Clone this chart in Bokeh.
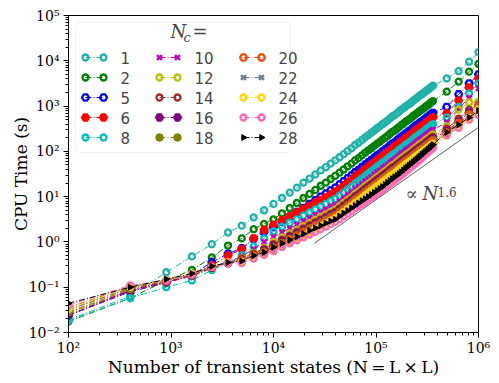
import math
from bokeh.plotting import figure
from bokeh.models import (Range1d, FixedTicker, CustomJSTickFormatter, Label,
                          BoxAnnotation, LinearScale)
from bokeh.embed import file_html
from bokeh.resources import INLINE

# ---------------- data ----------------
L_sizes = list(range(10, 601, 10)) + [700, 800, 900, 1000]
N_states = [L * L for L in L_sizes]          # N = L x L

Nc_values = [1, 2, 5, 6, 8, 10, 12, 14, 16, 18, 20, 22, 24, 26, 28]

t_nc1 = [0.0191, 0.0631, 0.214, 0.479, 0.891, 1.62, 2.29, 3.47, 5.01,
         6.92, 9.33, 12.3, 15.8, 20.4, 25.1, 30.9, 38.0, 44.7, 53.7, 63.1, 74.1, 87.1, 102, 117, 138, 155, 178,
         204, 229, 257, 288, 324, 355, 398, 437, 479, 537, 589, 631, 692, 759, 832, 891, 977, 1050, 1120, 1200,
         1320, 1410, 1510, 1620, 1740, 1820, 1950, 2090, 2240, 2340, 2510, 2690, 2820,
         4070, 5890, 9550, 15500]
t_nc2 = [0.0174, 0.0575, 0.141, 0.240, 0.457, 0.832, 1.20, 1.91, 2.51,
         3.16, 4.27, 5.62, 7.24, 9.33, 11.5, 14.1, 17.4, 20.4, 24.5, 28.8, 33.9, 39.8, 46.8, 53.7, 63.1, 70.8,
         81.3, 93.3, 105, 117, 132, 148, 162, 182, 200, 219, 245, 269, 288, 316, 347, 380, 407, 447, 479, 513,
         550, 603, 646, 692, 741, 794, 832, 891, 955, 1020, 1070, 1150, 1230, 1290,
         2090, 3470, 5750, 8510]
t_nc5 = [0.0240, 0.0794, 0.126, 0.191, 0.355, 0.550, 0.724, 1.15, 1.66,
         2.14, 2.82, 3.63, 4.57, 5.62, 6.92, 8.32, 10.0, 11.7, 13.8, 15.8, 18.6, 21.9, 25.7, 29.5, 34.7, 38.9,
         44.7, 51.3, 57.5, 64.6, 72.4, 81.3, 89.1, 100, 110, 120, 135, 148, 158, 174, 191, 209, 224, 245, 263,
         282, 302, 331, 355, 380, 407, 437, 457, 490, 525, 562, 589, 631, 676, 708,
         955, 1820, 3160, 5010]
t_nc6 = [0.0275, 0.0832, 0.126, 0.178, 0.302, 0.501, 0.692, 1.20, 1.86,
         2.40, 3.02, 3.72, 4.47, 5.37, 6.31, 7.41, 8.51, 9.77, 11.2, 12.6, 14.8, 17.4, 20.4, 23.4, 27.5, 30.9,
         35.5, 40.7, 45.7, 51.3, 57.5, 64.6, 70.8, 79.4, 87.1, 95.5, 107, 117, 126, 138, 151, 166, 178, 195, 209,
         224, 240, 263, 282, 302, 324, 347, 363, 389, 417, 447, 468, 501, 537, 562,
         692, 1320, 2570, 4070]
t_nc8 = [0.0182, 0.0575, 0.100, 0.141, 0.240, 0.339, 0.501, 0.794, 1.20,
         1.70, 2.14, 2.63, 3.16, 3.80, 4.47, 5.25, 6.03, 6.92, 7.94, 8.91, 10.5, 12.3, 14.5, 16.6, 19.5, 21.9,
         25.1, 28.8, 32.4, 36.3, 40.7, 45.7, 50.1, 56.2, 61.7, 67.6, 75.9, 83.2, 89.1, 97.7, 107, 117, 126, 138,
         148, 158, 170, 186, 200, 214, 229, 245, 257, 275, 295, 316, 331, 355, 380, 398,
         562, 955, 1910, 3160]
t_nc10 = [0.0240, 0.0832, 0.132, 0.174, 0.263, 0.355, 0.479, 0.692, 1.00,
          1.29, 1.62, 2.00, 2.40, 2.88, 3.39, 3.98, 4.57, 5.25, 6.03, 6.76, 7.94, 9.33, 11.0, 12.6, 14.8, 16.6,
          19.1, 21.9, 24.5, 27.5, 30.9, 34.7, 38.0, 42.7, 46.8, 51.3, 57.5, 63.1, 67.6, 74.1, 81.3, 89.1, 95.5,
          105, 112, 120, 129, 141, 151, 162, 174, 186, 195, 209, 224, 240, 251, 269, 288, 302,
          437, 891, 1510, 2450]
t_nc12 = [0.0263, 0.0891, 0.135, 0.178, 0.263, 0.347, 0.437, 0.575, 0.741,
          1.00, 1.26, 1.55, 1.86, 2.24, 2.63, 3.09, 3.55, 4.07, 4.68, 5.25, 6.17, 7.24, 8.51, 9.77, 11.5, 12.9,
          14.8, 17.0, 19.1, 21.4, 24.0, 26.9, 29.5, 33.1, 36.3, 39.8, 44.7, 49.0, 52.5, 57.5, 63.1, 69.2, 74.1,
          81.3, 87.1, 93.3, 100, 110, 117, 126, 135, 145, 151, 162, 174, 186, 195, 209, 224, 234,
          355, 832, 1200, 1260]
t_nc14 = [0.0316, 0.0955, 0.138, 0.191, 0.275, 0.355, 0.427, 0.550, 0.692,
          0.891, 1.12, 1.38, 1.66, 2.00, 2.34, 2.75, 3.16, 3.63, 4.17, 4.68, 5.50, 6.46, 7.59, 8.71, 10.2, 11.5,
          13.2, 15.1, 17.0, 19.1, 21.4, 24.0, 26.3, 29.5, 32.4, 35.5, 39.8, 43.7, 46.8, 51.3, 56.2, 61.7, 66.1,
          72.4, 77.6, 83.2, 89.1, 97.7, 105, 112, 120, 129, 135, 145, 155, 166, 174, 186, 200, 209,
          316, 525, 832, 1070]
t_nc16 = [0.0240, 0.0871, 0.132, 0.182, 0.269, 0.339, 0.398, 0.513, 0.646,
          0.813, 1.02, 1.26, 1.51, 1.82, 2.14, 2.51, 2.88, 3.31, 3.80, 4.27, 5.01, 5.89, 6.92, 7.94, 9.33, 10.5,
          12.0, 13.8, 15.5, 17.4, 19.5, 21.9, 24.0, 26.9, 29.5, 32.4, 36.3, 39.8, 42.7, 46.8, 51.3, 56.2, 60.3,
          66.1, 70.8, 75.9, 81.3, 89.1, 95.5, 102, 110, 117, 123, 132, 141, 151, 158, 170, 182, 191,
          282, 457, 724, 1000]
t_nc18 = [0.0282, 0.0912, 0.138, 0.191, 0.275, 0.347, 0.389, 0.501, 0.617,
          0.759, 0.955, 1.18, 1.41, 1.70, 2.00, 2.34, 2.69, 3.09, 3.55, 3.98, 4.68, 5.50, 6.46, 7.41, 8.71, 9.77,
          11.2, 12.9, 14.5, 16.2, 18.2, 20.4, 22.4, 25.1, 27.5, 30.2, 33.9, 37.2, 39.8, 43.7, 47.9, 52.5, 56.2,
          61.7, 66.1, 70.8, 75.9, 83.2, 89.1, 95.5, 102, 110, 115, 123, 132, 141, 148, 158, 170, 178,
          263, 427, 661, 955]
t_nc20 = [0.0355, 0.105, 0.141, 0.195, 0.282, 0.355, 0.380, 0.490, 0.575,
          0.708, 0.891, 1.10, 1.32, 1.58, 1.86, 2.19, 2.51, 2.88, 3.31, 3.72, 4.37, 5.13, 6.03, 6.92, 8.13, 9.12,
          10.5, 12.0, 13.5, 15.1, 17.0, 19.1, 20.9, 23.4, 25.7, 28.2, 31.6, 34.7, 37.2, 40.7, 44.7, 49.0, 52.5,
          57.5, 61.7, 66.1, 70.8, 77.6, 83.2, 89.1, 95.5, 102, 107, 115, 123, 132, 138, 148, 158, 166,
          251, 417, 631, 1050]
t_nc22 = [0.0316, 0.100, 0.141, 0.195, 0.282, 0.355, 0.372, 0.479, 0.550,
          0.676, 0.851, 1.05, 1.26, 1.51, 1.78, 2.09, 2.40, 2.75, 3.16, 3.55, 4.17, 4.90, 5.75, 6.61, 7.76, 8.71,
          10.0, 11.5, 12.9, 14.5, 16.2, 18.2, 20.0, 22.4, 24.5, 26.9, 30.2, 33.1, 35.5, 38.9, 42.7, 46.8, 50.1,
          55.0, 58.9, 63.1, 67.6, 74.1, 79.4, 85.1, 91.2, 97.7, 102, 110, 117, 126, 132, 141, 151, 158,
          234, 380, 589, 891]
t_nc24 = [0.0331, 0.102, 0.145, 0.200, 0.282, 0.355, 0.363, 0.457, 0.525,
          0.631, 0.794, 0.977, 1.18, 1.41, 1.66, 1.95, 2.24, 2.57, 2.95, 3.31, 3.89, 4.57, 5.37, 6.17, 7.24, 8.13,
          9.33, 10.7, 12.0, 13.5, 15.1, 17.0, 18.6, 20.9, 22.9, 25.1, 28.2, 30.2, 33.1, 36.3, 39.8, 43.7, 46.8,
          51.3, 55.0, 58.9, 63.1, 69.2, 74.1, 79.4, 85.1, 91.2, 95.5, 102, 110, 117, 123, 132, 141, 148,
          224, 355, 550, 851]
t_nc26 = [0.040, 0.11, 0.14, 0.19, 0.28, 0.34, 0.34, 0.43, 0.52,
          0.63, 0.77, 0.93, 1.09, 1.27, 1.46, 1.68, 1.92, 2.19, 2.48, 2.78, 3.2, 3.7, 4.2, 4.8, 5.5, 6.2,
          6.9, 7.7, 8.6, 9.5, 10.6, 11.7, 13.0, 14.4, 15.9, 17.5, 19.2, 21.0, 23.0, 25.1, 27.5, 30.0, 32.7,
          35.6, 38.7, 42.1, 45.6, 49.3, 53.3, 57.5, 62.0, 66.9, 72.4, 78.5, 85.0, 91.5, 98.2, 105, 113, 120,
          229, 331, 501, 631]
t_nc28 = [0.044, 0.10, 0.15, 0.20, 0.29, 0.35, 0.38, 0.50, 0.59,
          0.76, 0.93, 1.10, 1.30, 1.52, 1.78, 2.03, 2.30, 2.59, 2.90, 3.16, 3.70, 4.30, 4.90, 5.60, 6.30, 7.20,
          8.10, 9.00, 10.0, 11.2, 12.4, 13.7, 15.1, 16.6, 18.5, 20.5, 22.6, 24.8, 27.2, 29.5, 32.2, 35.1, 38.5,
          42.0, 45.8, 49.7, 53.8, 58.2, 62.9, 67.6, 72.9, 78.8, 85.5, 92.0, 99.0, 105, 113, 121, 130, 141,
          263, 389, 562, 794]

cpu_times = [t_nc1, t_nc2, t_nc5, t_nc6, t_nc8, t_nc10, t_nc12, t_nc14, t_nc16,
             t_nc18, t_nc20, t_nc22, t_nc24, t_nc26, t_nc28]

# guide line  ~ N^1.6
ref_N = [2.5e4, 1e6]
ref_t = [0.93, 340]

# ---------------- styles ----------------
styles = [
    ("#20b2aa", "circle", False), ("#008000", "circle", False),
    ("#0000ff", "hex", False), ("#ff0000", "hex", True),
    ("#00bfbf", "circle", False), ("#bf00bf", "x", False),
    ("#bfbf00", "circle", False), ("#a52a2a", "circle", False),
    ("#800080", "hex", True), ("#808000", "circle", True),
    ("#ff4500", "hex", False), ("#708090", "x", False),
    ("#ffd700", "circle", False), ("#ff69b4", "circle", False),
    ("#000000", "triangle", True),
]

p = figure(frame_width=410, frame_height=317, x_axis_type="log", y_axis_type="log",
           x_range=Range1d(1e2, 1e6), y_range=Range1d(1e-2, 1e5),
           output_backend="svg", toolbar_location=None,
           min_border_left=68, min_border_right=19, min_border_top=15, min_border_bottom=48)
p.extra_x_ranges = {"lx": Range1d(0, 410)}
p.extra_y_ranges = {"ly": Range1d(0, 317)}
p.extra_x_scales = {"lx": LinearScale()}
p.extra_y_scales = {"ly": LinearScale()}
p.grid.visible = False
p.outline_line_color = "black"
p.outline_line_width = 1
p.outline_line_alpha = 1
p.background_fill_color = "white"
p.border_fill_color = "white"


def add(i, xs, ys, legend=False):
    col, mk, filled = styles[i]
    kw = dict(x_range_name="lx", y_range_name="ly", level="overlay") if legend else {}
    p.line(xs, ys, line_color=col, line_width=1, line_dash="6 2 1 2", **kw)
    if mk == "x":
        p.scatter(xs, ys, marker="x", size=7, line_color=col, line_width=2.5, **kw)
    elif mk == "triangle":
        p.scatter(xs, ys, marker="triangle", size=6, angle=-math.pi / 2,
                  fill_color=col, line_color=col, line_width=1, **kw)
    elif filled:
        size = 7.5 if mk == "circle" else 8.5
        p.scatter(xs, ys, marker=mk, size=size, fill_color=col, line_color=col, line_width=1, **kw)
    else:
        size = 6 if mk == "circle" else 7
        p.scatter(xs, ys, marker=mk, size=size, fill_color=None, line_color=col, line_width=2.3, **kw)


for i, ts in enumerate(cpu_times):
    add(i, N_states, ts)

p.line(ref_N, ref_t, line_color="#333333", line_width=0.8)

p.xaxis.ticker = FixedTicker(ticks=[10.0 ** e for e in range(2, 7)],
                             minor_ticks=[k * 10.0 ** e for e in range(2, 6) for k in range(2, 10)])
p.yaxis.ticker = FixedTicker(ticks=[10.0 ** e for e in range(-2, 6)],
                             minor_ticks=[k * 10.0 ** e for e in range(-2, 5) for k in range(2, 10)])
fmtjs = CustomJSTickFormatter(code="""
const e = Math.round(Math.log10(tick));
const m = {"-":"\u207b","0":"\u2070","1":"\u00b9","2":"\u00b2","3":"\u00b3","4":"\u2074","5":"\u2075","6":"\u2076","7":"\u2077","8":"\u2078","9":"\u2079"};
return "10" + String(e).split("").map(c => m[c]).join("");
""")
for ax in (p.xaxis[0], p.yaxis[0]):
    ax.formatter = fmtjs
    ax.major_label_text_font = "DejaVu Serif"
    ax.major_label_text_font_size = "14px"
    ax.major_label_text_color = "black"
    ax.axis_label_text_font = "DejaVu Serif"
    ax.axis_label_text_font_size = "17px"
    ax.axis_label_text_font_style = "normal"
    ax.axis_label_text_color = "black"
    ax.major_tick_in = 0
    ax.major_tick_out = 5
    ax.minor_tick_in = 0
    ax.minor_tick_out = 3
    ax.axis_line_color = "black"
    ax.major_tick_line_color = "black"
    ax.minor_tick_line_color = "black"
p.xaxis.major_label_standoff = 2
p.xaxis.axis_label_standoff = -2
p.yaxis.major_label_standoff = 4
p.yaxis.axis_label_standoff = -5
p.xaxis.axis_label = "Number of transient states (N\u2009=\u2009L\u2009\u00d7\u2009L)"
p.yaxis.axis_label = "CPU Time (s)"

# ---------------- legend (drawn in frame pixel coordinates) ----------------
p.add_layout(BoxAnnotation(left=7, right=222, bottom=180, top=310, x_range_name="lx", y_range_name="ly",
                           fill_color="white", fill_alpha=0.8, line_color="#cccccc", line_width=1,
                           border_radius=4, level="annotation"))
col_x = [17, 91, 175]
for i, nc in enumerate(Nc_values):
    c, r = divmod(i, 5)
    x0 = col_x[c]
    y0 = 275 - 20 * r
    add(i, [x0, x0 + 18], [y0, y0], legend=True)
    p.add_layout(Label(x=x0 + 35, y=y0, text=str(nc), x_range_name="lx", y_range_name="ly",
                       text_font="DejaVu Sans", text_font_size="15px", text_baseline="middle",
                       level="overlay"))
p.add_layout(Label(x=102, y=291, text="N", x_range_name="lx", y_range_name="ly", text_font="DejaVu Serif",
                   text_font_style="italic", text_font_size="18px", level="overlay"))
p.add_layout(Label(x=115, y=288, text="c", x_range_name="lx", y_range_name="ly", text_font="DejaVu Serif",
                   text_font_style="italic", text_font_size="13px", level="overlay"))
p.add_layout(Label(x=124, y=291, text="=", x_range_name="lx", y_range_name="ly", text_font="DejaVu Serif",
                   text_font_size="18px", level="overlay"))
p.add_layout(Label(x=337, y=129, text="\u221d", x_range_name="lx", y_range_name="ly", text_font="DejaVu Serif",
                   text_font_size="18px"))
p.add_layout(Label(x=354, y=129, text="N", x_range_name="lx", y_range_name="ly", text_font="DejaVu Serif",
                   text_font_style="italic", text_font_size="18px"))
p.add_layout(Label(x=369, y=136, text="1.6", x_range_name="lx", y_range_name="ly", text_font="DejaVu Serif",
                   text_font_size="12px"))

open("out.html", "w").write(file_html(p, INLINE))
